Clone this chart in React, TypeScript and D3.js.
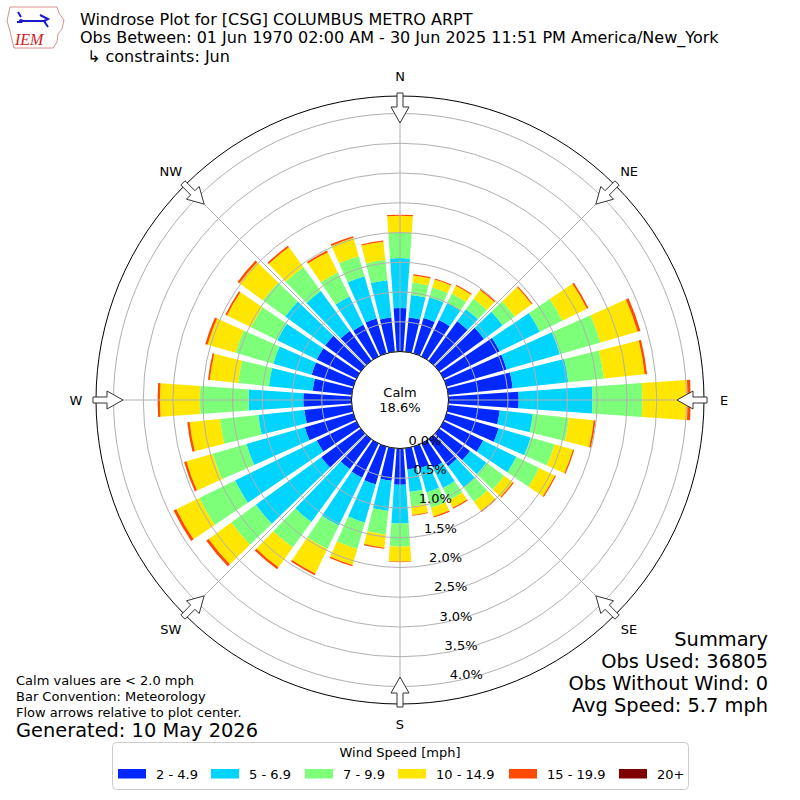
import React from "react";
import * as d3 from "d3";

// ---- data ----
const directions = [0, 10, 20, 30, 40, 50, 60, 70, 80, 90, 100, 110, 120, 130, 140, 150, 160, 170,
  180, 190, 200, 210, 220, 230, 240, 250, 260, 270, 280, 290, 300, 310, 320, 330, 340, 350];
const speedBins = ["2 - 4.9", "5 - 6.9", "7 - 9.9", "10 - 14.9", "15 - 19.9", "20+"];
const binColors = ["#0028ff", "#00d4ff", "#7dff7a", "#ffe600", "#ff4a00", "#7f0000"];
// percent of observations per direction for each speed bin
const bin2to5 = [0.73, 0.58, 0.62, 0.68, 0.82, 0.93, 1.05, 1.05, 1.09, 1.18, 0.87, 0.91, 0.74, 0.64, 0.56, 0.45, 0.38, 0.36,
  0.61, 0.55, 0.66, 0.64, 0.62, 0.82, 0.74, 0.85, 0.80, 0.81, 0.66, 0.73, 0.74, 0.74, 0.62, 0.59, 0.61, 0.58];
const bin5to7 = [0.84, 0.38, 0.36, 0.32, 0.25, 0.39, 0.75, 0.93, 0.94, 1.24, 0.56, 0.56, 0.62, 0.34, 0.44, 0.38, 0.42, 0.38,
  0.65, 0.51, 0.67, 0.89, 1.10, 1.36, 1.53, 1.02, 0.78, 0.92, 0.74, 0.67, 0.74, 0.83, 0.83, 0.53, 0.74, 0.63];
const bin7to10 = [0.43, 0.21, 0.17, 0.17, 0.22, 0.25, 0.42, 0.71, 0.60, 0.84, 0.61, 0.42, 0.43, 0.37, 0.30, 0.23, 0.27, 0.24,
  0.39, 0.40, 0.46, 0.44, 0.53, 0.51, 0.67, 0.59, 0.65, 0.82, 0.52, 0.66, 0.49, 0.46, 0.50, 0.45, 0.35, 0.34];
const bin10to15 = [0.28, 0.12, 0.14, 0.15, 0.18, 0.35, 0.46, 0.65, 0.69, 0.76, 0.42, 0.32, 0.29, 0.18, 0.19, 0.14, 0.15, 0.15,
  0.25, 0.22, 0.28, 0.46, 0.41, 0.47, 0.43, 0.46, 0.51, 0.67, 0.48, 0.49, 0.45, 0.49, 0.41, 0.38, 0.32, 0.31];
const bin15to20 = [0.02, 0.02, 0.02, 0.02, 0.02, 0.02, 0.03, 0.05, 0.04, 0.05, 0.03, 0.02, 0.02, 0.02, 0.02, 0.02, 0.02, 0.01,
  0.01, 0.02, 0.02, 0.03, 0.04, 0.05, 0.05, 0.04, 0.04, 0.04, 0.03, 0.04, 0.03, 0.04, 0.03, 0.03, 0.03, 0.02];
const bin20plus = [0, 0, 0, 0, 0, 0, 0, 0, 0, 0.002, 0, 0, 0, 0, 0, 0, 0, 0,
  0, 0, 0, 0, 0, 0, 0, 0, 0, 0, 0, 0, 0, 0, 0, 0, 0, 0];
const ringTicks = [0, 0.5, 1.0, 1.5, 2.0, 2.5, 3.0, 3.5, 4.0];
const compassLabels = ["N", "NE", "E", "SE", "S", "SW", "W", "NW"];
const compassAngles = [0, 45, 90, 135, 180, 225, 270, 315];
const calmPct = "18.6%";
const titleLines = [
  "Windrose Plot for [CSG] COLUMBUS METRO ARPT",
  "Obs Between: 01 Jun 1970 02:00 AM - 30 Jun 2025 11:51 PM America/New_York",
  "\u21b3 constraints: Jun",
];
const summaryLines = ["Summary", "Obs Used: 36805", "Obs Without Wind: 0", "Avg Speed: 5.7 mph"];
const noteLines = ["Calm values are < 2.0 mph", "Bar Convention: Meteorology", "Flow arrows relative to plot center."];
const generatedText = "Generated: 10 May 2026";

const FONT = "'DejaVu Sans', sans-serif";
const CX = 400;
const CY = 400;
const R_OUTER = 304;

export default function App() {
  const rScale = d3.scaleLinear().domain([0, 4]).range([48.5, 286.5]);
  const keys = ["b0", "b1", "b2", "b3", "b4", "b5"];
  const allBins = [bin2to5, bin5to7, bin7to10, bin10to15, bin15to20, bin20plus];
  const rows = directions.map((d, i) => {
    const row: any = { dir: d };
    keys.forEach((k, j) => (row[k] = allBins[j][i]));
    return row;
  });
  const stacked = d3.stack().keys(keys)(rows as any);
  const half = (4 * Math.PI) / 180;
  const arcGen = d3.arc();

  const rad = (deg: number) => (deg * Math.PI) / 180;
  const polar = (deg: number, r: number, lat = 0) => {
    const a = rad(deg);
    return [CX + r * Math.sin(a) + lat * Math.cos(a), CY - r * Math.cos(a) + lat * Math.sin(a)];
  };

  const arrowPts = (deg: number) => {
    const pts = [
      [277, 0], [293, -9], [293, -3], [307, -3], [307, 3], [293, 3], [293, 9],
    ];
    return pts.map(([r, l]) => polar(deg, r, l).join(",")).join(" ");
  };

  const legendPatchX = [118, 211, 305, 398, 509, 619];
  const legendLabelX = [156, 249, 343, 436, 547, 657];

  return (
    <svg width={800} height={800} style={{ display: "block", position: "absolute", left: 0, top: 0 }}
      fontFamily={FONT}>
      <rect x={0} y={0} width={800} height={800} fill="#fff" />
      {/* logo */}
      <g>
        <path d="M10,7 L57,7 L59,13 L64,20 L62,29 L58,34 L57,42 L53,48 L14,48 L12,40 L10,31 L7,21 Z"
          fill="#fff" stroke="#d89090" strokeWidth={1} />
        <path d="M18,12 L21,17 M20,21 L46,21 M40,15 L48,19 L44,21 M44,21 L48,27 M17,22 L22,22"
          stroke="#1a1acc" strokeWidth={2} fill="none" />
        <circle cx={21} cy={21} r={2} fill="#1a1acc" />
        <text x={15} y={45} fontFamily="'Liberation Serif', serif" fontStyle="italic" fontSize={16}
          fill="#d02020">IEM</text>
      </g>
      {/* titles */}
      <text x={80} y={24.5} fontSize={16} fill="#000">{titleLines[0]}</text>
      <text x={80} y={43} fontSize={16} fill="#000">{titleLines[1]}</text>
      <text x={87} y={61.5} fontSize={16} fill="#000">{titleLines[2]}</text>

      {/* bars */}
      <g>
        {stacked.map((series, j) =>
          series.map((d: any, i: number) => {
            const a = rad(directions[i]);
            const path = arcGen({
              innerRadius: rScale(d[0]),
              outerRadius: rScale(d[1]),
              startAngle: a - half,
              endAngle: a + half,
            } as any);
            return d[1] - d[0] > 0 ? (
              <path key={`${j}-${i}`} d={path || ""} transform={`translate(${CX},${CY})`} fill={binColors[j]} />
            ) : null;
          })
        )}
      </g>
      {/* grid */}
      <g fill="none" stroke="#b0b0b0" strokeWidth={1}>
        {ringTicks.map((t) => (
          <circle key={t} cx={CX} cy={CY} r={rScale(t)} />
        ))}
        {compassAngles.map((a) => {
          const p1 = polar(a, rScale(0));
          const p2 = polar(a, R_OUTER);
          return <line key={a} x1={p1[0]} y1={p1[1]} x2={p2[0]} y2={p2[1]} />;
        })}
      </g>
      <circle cx={CX} cy={CY} r={R_OUTER} fill="none" stroke="#000" strokeWidth={1} />
      <circle cx={CX} cy={CY} r={rScale(0)} fill="#fff" stroke="#000" strokeWidth={1} />
      <text x={CX} y={397} fontSize={13} textAnchor="middle">Calm</text>
      <text x={CX} y={412} fontSize={13} textAnchor="middle">{calmPct}</text>

      {/* ring labels */}
      {ringTicks.map((t) => {
        const p = polar(170, rScale(t));
        return (
          <text key={t} x={p[0]} y={p[1] - 3} fontSize={13}>{`${t.toFixed(1)}%`}</text>
        );
      })}
      {/* compass labels */}
      {compassLabels.map((lab, i) => {
        const p = polar(compassAngles[i], 324);
        return (
          <text key={lab} x={p[0]} y={p[1] + 5} fontSize={13} textAnchor="middle">{lab}</text>
        );
      })}
      {/* arrows */}
      {compassAngles.map((a) => (
        <polygon key={a} points={arrowPts(a)} fill="#fff" stroke="#333" strokeWidth={1} />
      ))}

      {/* summary */}
      {summaryLines.map((s, i) => (
        <text key={s} x={768} y={646 + i * 22} fontSize={19.4} textAnchor="end">{s}</text>
      ))}
      {noteLines.map((s, i) => (
        <text key={s} x={16} y={685 + i * 16} fontSize={13}>{s}</text>
      ))}
      <text x={16} y={737} fontSize={19.4}>{generatedText}</text>

      {/* legend */}
      <rect x={112.5} y={742.5} width={576} height={47} rx={4} fill="#fff" stroke="#cccccc" />
      <text x={400} y={757} fontSize={13} textAnchor="middle">Wind Speed [mph]</text>
      {speedBins.map((b, i) => (
        <g key={b}>
          <rect x={legendPatchX[i]} y={769} width={28} height={9.5} fill={binColors[i]} />
          <text x={legendLabelX[i]} y={779} fontSize={13}>{b}</text>
        </g>
      ))}
    </svg>
  );
}
